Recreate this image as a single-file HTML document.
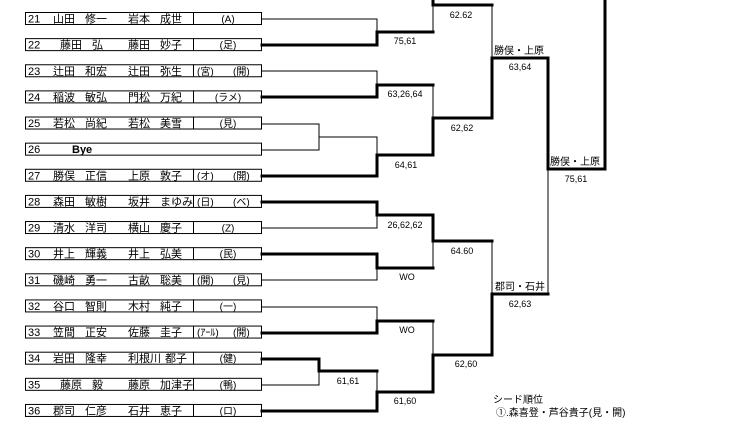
<!DOCTYPE html>
<html><head><meta charset="utf-8"><style>
html,body{margin:0;padding:0;background:#fff;}
svg{display:block;font-family:"Liberation Sans","Noto Sans CJK JP",sans-serif;}
</style></head><body>
<svg width="746" height="440" viewBox="0 0 746 440" xmlns="http://www.w3.org/2000/svg">
<g id="rows" font-size="11" fill="#000"></g>
<g stroke="#000" fill="none" stroke-linecap="square">
<!-- thin lines -->
<g stroke-width="1">
<path d="M262 19H377V32 M377 97V85 M262 71H377V85"/>
<path d="M262 124H319V150H262 M319 137H377V155"/>
<path d="M377 215V228H262 M377 268V280H262 M262 307H377V321"/>
<path d="M319 371V385H262 M319 371H320"/>
<path d="M377 371V392"/>
<path d="M433 0V32 M433 85V118 M433 241V268 M433 321V355"/>
<path d="M492 5V58 M492 241V294"/>
<path d="M548 169V294"/>
</g>
<g stroke-width="3">
<path d="M262 45H377V32H433"/>
<path d="M262 97H377V85H433"/>
<path d="M262 176H377V155H433V118H492V58H548V169H605V0"/>
<path d="M433 0V5H492"/>
<path d="M262 202H377V215H433V241H492"/>
<path d="M262 254H377V268H433"/>
<path d="M262 333H377V321H433"/>
<path d="M262 359H319V371H377"/>
<path d="M262 411H377V392H433V355H492V294H548"/>
</g>
</g>
<g font-size="9" fill="#000" text-anchor="middle">
<text x="461" y="18">62.62</text>
<text x="405" y="44">75,61</text>
<text x="405" y="97">63,26,64</text>
<text x="462" y="131">62,62</text>
<text x="406" y="168">64,61</text>
<text x="520" y="70">63,64</text>
<text x="576" y="182">75,61</text>
<text x="405" y="228">26,62,62</text>
<text x="407" y="280">WO</text>
<text x="462" y="254">64.60</text>
<text x="407" y="333">WO</text>
<text x="348" y="384">61,61</text>
<text x="405" y="404">61,60</text>
<text x="466" y="367">62,60</text>
<text x="520" y="307">62,63</text>
</g>
<g font-size="10" fill="#000">
<text x="494" y="54">勝俣・上原</text>
<text x="550" y="165">勝俣・上原</text>
<text x="495" y="290">郡司・石井</text>
<text x="493" y="403">シード順位</text>
<text x="496" y="416">①.森喜登・芦谷貴子(見・開)</text>
</g>
</svg>
<script>
var rows=[
["21","山田","修一","岩本","成世","(A)",""],
["22","藤田","弘","藤田","妙子","(足)",""],
["23","辻田","和宏","辻田","弥生","(宮)","(開)"],
["24","稲波","敏弘","門松","万紀","(ラメ)",""],
["25","若松","尚紀","若松","美雪","(見)",""],
["26","BYE","","","","",""],
["27","勝俣","正信","上原","敦子","(オ)","(開)"],
["28","森田","敏樹","坂井","まゆみ","(日)","(ベ)"],
["29","清水","洋司","横山","慶子","(Z)",""],
["30","井上","輝義","井上","弘美","(民)",""],
["31","磯崎","勇一","古畝","聡美","(開)","(見)"],
["32","谷口","智則","木村","純子","(一)",""],
["33","笠間","正安","佐藤","圭子","(ｱｰﾙ)","(開)"],
["34","岩田","隆幸","利根川","都子","(健)",""],
["35","藤原","毅","藤原","加津子","(鴨)",""],
["36","郡司","仁彦","石井","恵子","(ロ)",""]];
var g=document.getElementById('rows'),s='';
rows.forEach(function(r,i){
 var c=19+i*26.13, t=c-7, b=t+12, base=b-1.5;
 s+='<rect x="25.5" y="'+(t+0.5)+'" width="236" height="12" fill="none" stroke="#000" stroke-width="1"/>';
 if(r[1]!="BYE") s+='<line x1="193.5" y1="'+t+'" x2="193.5" y2="'+b+'" stroke="#000"/>';
 s+='<text x="28" y="'+base+'">'+r[0]+'</text>';
 if(r[1]=="BYE"){s+='<text x="72" y="'+base+'" font-weight="bold">Bye</text>';return;}
 var sh=(r[2].length==1)?7:0;
 s+='<text x="'+(53+sh)+'" y="'+base+'">'+r[1]+'</text>';
 s+='<text x="'+(85+sh)+'" y="'+base+'">'+r[2]+'</text>';
 s+='<text x="128" y="'+base+'">'+r[3]+'</text>';
 s+='<text x="'+(r[3].length==3?165:160)+'" y="'+base+'">'+r[4]+'</text>';
 if(r[6]){s+='<text x="197" y="'+base+'" font-size="10">'+r[5]+'</text><text x="233" y="'+base+'" font-size="10">'+r[6]+'</text>';}
 else s+='<text x="228" y="'+base+'" text-anchor="middle" font-size="10">'+r[5]+'</text>';
});
g.innerHTML=s;
</script>
</body></html>
